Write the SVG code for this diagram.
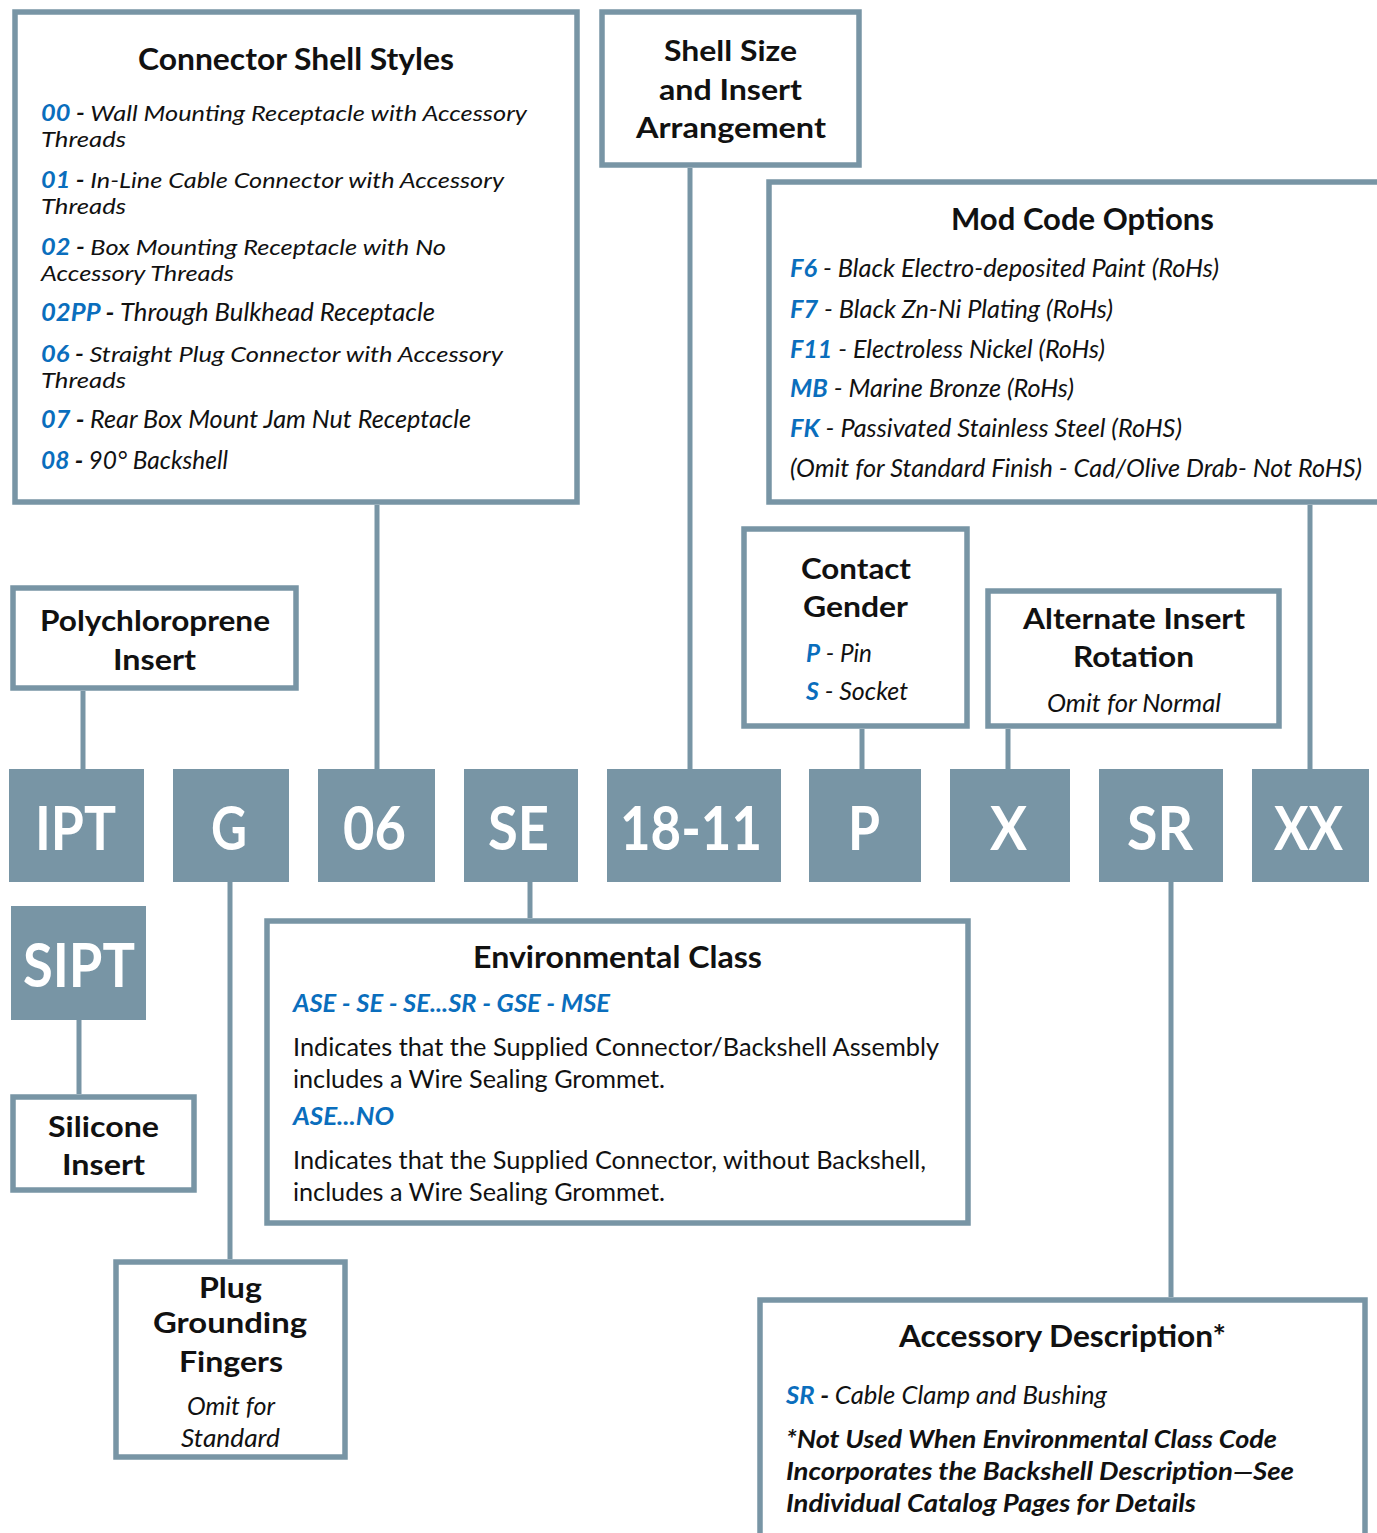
<svg xmlns="http://www.w3.org/2000/svg" width="1377" height="1533" viewBox="0 0 1377 1533">
<style>
.box{fill:#fff;stroke:#7895A5;stroke-width:5.5}
.code{fill:#7895A5}
.conn line{stroke:#7895A5;stroke-width:5}
text{font-family:Lato,"Open Sans","Liberation Sans",sans-serif;fill:#111}
.t{font-weight:bold;font-size:30px}
.h{font-weight:bold;font-size:29px}
.i{font-style:italic;font-size:25px}
.s{font-size:22px}
.r{font-size:25px}
.b{fill:#0A6EBD;font-weight:bold;font-style:italic}
.d{font-weight:bold}
.c{font-weight:bold;font-size:62px;fill:#fff}
.bi{font-weight:bold;font-style:italic;font-size:25px}
</style>
<rect width="1377" height="1533" fill="#fff"/>
<g class="conn">
<line x1="377" y1="505" x2="377" y2="769"/>
<line x1="690" y1="168" x2="690" y2="769"/>
<line x1="1310" y1="505" x2="1310" y2="769"/>
<line x1="83" y1="691" x2="83" y2="769"/>
<line x1="862" y1="729" x2="862" y2="769"/>
<line x1="1008" y1="729" x2="1008" y2="769"/>
<line x1="230" y1="882" x2="230" y2="1259"/>
<line x1="530" y1="882" x2="530" y2="918"/>
<line x1="1171" y1="882" x2="1171" y2="1297"/>
<line x1="79" y1="1020" x2="79" y2="1094"/>
</g>
<g id="shell-styles">
<rect class="box" x="15" y="12" width="562" height="490"/>
<text class="t" x="138" y="70" textLength="316" lengthAdjust="spacingAndGlyphs">Connector Shell Styles</text>
<text class="i s" x="41" y="121" textLength="486" lengthAdjust="spacingAndGlyphs"><tspan class="b">00</tspan><tspan class="d"> - </tspan>Wall Mounting Receptacle with Accessory</text>
<text class="i s" x="41" y="147" textLength="85" lengthAdjust="spacingAndGlyphs">Threads</text>
<text class="i s" x="41" y="188" textLength="463" lengthAdjust="spacingAndGlyphs"><tspan class="b">01</tspan><tspan class="d"> - </tspan>In-Line Cable Connector with Accessory</text>
<text class="i s" x="41" y="214" textLength="85" lengthAdjust="spacingAndGlyphs">Threads</text>
<text class="i s" x="41" y="255" textLength="405" lengthAdjust="spacingAndGlyphs"><tspan class="b">02</tspan><tspan class="d"> - </tspan>Box Mounting Receptacle with No</text>
<text class="i s" x="41" y="281" textLength="193" lengthAdjust="spacingAndGlyphs">Accessory Threads</text>
<text class="i" x="41" y="321" textLength="394" lengthAdjust="spacingAndGlyphs"><tspan class="b">02PP</tspan><tspan class="d"> - </tspan>Through Bulkhead Receptacle</text>
<text class="i s" x="41" y="362" textLength="462" lengthAdjust="spacingAndGlyphs"><tspan class="b">06</tspan><tspan class="d"> - </tspan>Straight Plug Connector with Accessory</text>
<text class="i s" x="41" y="388" textLength="85" lengthAdjust="spacingAndGlyphs">Threads</text>
<text class="i" x="41" y="428" textLength="430" lengthAdjust="spacingAndGlyphs"><tspan class="b">07</tspan><tspan class="d"> - </tspan>Rear Box Mount Jam Nut Receptacle</text>
<text class="i" x="41" y="469" textLength="187" lengthAdjust="spacingAndGlyphs"><tspan class="b">08</tspan><tspan class="d"> - </tspan>90° Backshell</text>
</g>
<g id="shell-size">
<rect class="box" x="602" y="12" width="257" height="153"/>
<text class="h" x="664" y="61" textLength="133" lengthAdjust="spacingAndGlyphs">Shell Size</text>
<text class="h" x="659" y="100" textLength="143" lengthAdjust="spacingAndGlyphs">and Insert</text>
<text class="h" x="636" y="138" textLength="190" lengthAdjust="spacingAndGlyphs">Arrangement</text>
</g>
<g id="mod-code">
<rect class="box" x="769" y="182" width="620" height="320"/>
<text class="t" x="951" y="230" textLength="263" lengthAdjust="spacingAndGlyphs">Mod Code Options</text>
<text class="i" x="790" y="277" textLength="429" lengthAdjust="spacingAndGlyphs"><tspan class="b">F6</tspan> - Black Electro-deposited Paint (RoHs)</text>
<text class="i" x="790" y="318" textLength="323" lengthAdjust="spacingAndGlyphs"><tspan class="b">F7</tspan> - Black Zn-Ni Plating (RoHs)</text>
<text class="i" x="790" y="358" textLength="315" lengthAdjust="spacingAndGlyphs"><tspan class="b">F11</tspan> - Electroless Nickel (RoHs)</text>
<text class="i" x="790" y="397" textLength="284" lengthAdjust="spacingAndGlyphs"><tspan class="b">MB</tspan> - Marine Bronze (RoHs)</text>
<text class="i" x="790" y="437" textLength="392" lengthAdjust="spacingAndGlyphs"><tspan class="b">FK</tspan> - Passivated Stainless Steel (RoHS)</text>
<text class="i" x="790" y="477" textLength="572" lengthAdjust="spacingAndGlyphs">(Omit for Standard Finish - Cad/Olive Drab- Not RoHS)</text>
</g>
<g id="polychloroprene">
<rect class="box" x="13" y="588" width="283" height="100"/>
<text class="h" x="40" y="631" textLength="230" lengthAdjust="spacingAndGlyphs">Polychloroprene</text>
<text class="h" x="113" y="670" textLength="83" lengthAdjust="spacingAndGlyphs">Insert</text>
</g>
<g id="contact-gender">
<rect class="box" x="744" y="529" width="223" height="197"/>
<text class="h" x="801" y="579" textLength="110" lengthAdjust="spacingAndGlyphs">Contact</text>
<text class="h" x="803" y="617" textLength="105" lengthAdjust="spacingAndGlyphs">Gender</text>
<text class="i" x="806" y="662" textLength="66" lengthAdjust="spacingAndGlyphs"><tspan class="b">P</tspan> - Pin</text>
<text class="i" x="806" y="700" textLength="102" lengthAdjust="spacingAndGlyphs"><tspan class="b">S</tspan> - Socket</text>
</g>
<g id="alt-insert">
<rect class="box" x="988" y="591" width="291" height="135"/>
<text class="h" x="1023" y="629" textLength="222" lengthAdjust="spacingAndGlyphs">Alternate Insert</text>
<text class="h" x="1073" y="667" textLength="121" lengthAdjust="spacingAndGlyphs">Rotation</text>
<text class="i" x="1047" y="712" textLength="174" lengthAdjust="spacingAndGlyphs">Omit for Normal</text>
</g>
<g id="code-IPT"><rect class="code" x="9" y="769" width="135" height="113"/><text class="c" x="35" y="850" textLength="81" lengthAdjust="spacingAndGlyphs">IPT</text></g>
<g id="code-G"><rect class="code" x="173" y="769" width="116" height="113"/><text class="c" x="211" y="850" textLength="36" lengthAdjust="spacingAndGlyphs">G</text></g>
<g id="code-06"><rect class="code" x="318" y="769" width="117" height="113"/><text class="c" x="343" y="850" textLength="63" lengthAdjust="spacingAndGlyphs">06</text></g>
<g id="code-SE"><rect class="code" x="464" y="769" width="114" height="113"/><text class="c" x="488" y="850" textLength="61" lengthAdjust="spacingAndGlyphs">SE</text></g>
<g id="code-18-11"><rect class="code" x="607" y="769" width="174" height="113"/><text class="c" x="620" y="850" textLength="142" lengthAdjust="spacingAndGlyphs">18-11</text></g>
<g id="code-P"><rect class="code" x="809" y="769" width="112" height="113"/><text class="c" x="848" y="850" textLength="32" lengthAdjust="spacingAndGlyphs">P</text></g>
<g id="code-X"><rect class="code" x="950" y="769" width="120" height="113"/><text class="c" x="990" y="850" textLength="37" lengthAdjust="spacingAndGlyphs">X</text></g>
<g id="code-SR"><rect class="code" x="1099" y="769" width="124" height="113"/><text class="c" x="1127" y="850" textLength="66" lengthAdjust="spacingAndGlyphs">SR</text></g>
<g id="code-XX"><rect class="code" x="1252" y="769" width="117" height="113"/><text class="c" x="1274" y="850" textLength="69" lengthAdjust="spacingAndGlyphs">XX</text></g>
<g id="code-SIPT"><rect class="code" x="11" y="906" width="135" height="114"/><text class="c" x="23" y="987" textLength="112" lengthAdjust="spacingAndGlyphs">SIPT</text></g>
<g id="silicone">
<rect class="box" x="13" y="1097" width="181" height="93"/>
<text class="h" x="48" y="1137" textLength="111" lengthAdjust="spacingAndGlyphs">Silicone</text>
<text class="h" x="62" y="1175" textLength="83" lengthAdjust="spacingAndGlyphs">Insert</text>
</g>
<g id="environmental">
<rect class="box" x="267" y="921" width="701" height="302"/>
<text class="t" x="473" y="968" textLength="289" lengthAdjust="spacingAndGlyphs">Environmental Class</text>
<text class="i b" x="293" y="1012" textLength="317" lengthAdjust="spacingAndGlyphs">ASE - SE - SE...SR - GSE - MSE</text>
<text class="r" x="293" y="1056" textLength="646" lengthAdjust="spacingAndGlyphs">Indicates that the Supplied Connector/Backshell Assembly</text>
<text class="r" x="293" y="1088" textLength="372" lengthAdjust="spacingAndGlyphs">includes a Wire Sealing Grommet.</text>
<text class="i b" x="293" y="1125" textLength="101" lengthAdjust="spacingAndGlyphs">ASE...NO</text>
<text class="r" x="293" y="1169" textLength="633" lengthAdjust="spacingAndGlyphs">Indicates that the Supplied Connector, without Backshell,</text>
<text class="r" x="293" y="1201" textLength="372" lengthAdjust="spacingAndGlyphs">includes a Wire Sealing Grommet.</text>
</g>
<g id="plug-grounding">
<rect class="box" x="116" y="1262" width="229" height="195"/>
<text class="h" x="199" y="1298" textLength="63" lengthAdjust="spacingAndGlyphs">Plug</text>
<text class="h" x="153" y="1333" textLength="154" lengthAdjust="spacingAndGlyphs">Grounding</text>
<text class="h" x="179" y="1372" textLength="104" lengthAdjust="spacingAndGlyphs">Fingers</text>
<text class="i" x="187" y="1415" textLength="88" lengthAdjust="spacingAndGlyphs">Omit for</text>
<text class="i" x="181" y="1447" textLength="99" lengthAdjust="spacingAndGlyphs">Standard</text>
</g>
<g id="accessory">
<rect class="box" x="760" y="1300" width="605" height="240"/>
<text class="t" x="899" y="1347" textLength="327" lengthAdjust="spacingAndGlyphs">Accessory Description*</text>
<text class="i" x="786" y="1404" textLength="321" lengthAdjust="spacingAndGlyphs"><tspan class="b">SR</tspan><tspan class="d"> - </tspan>Cable Clamp and Bushing</text>
<text class="bi" x="786" y="1448" textLength="491" lengthAdjust="spacingAndGlyphs">*Not Used When Environmental Class Code</text>
<text class="bi" x="786" y="1480" textLength="508" lengthAdjust="spacingAndGlyphs">Incorporates the Backshell Description—See</text>
<text class="bi" x="786" y="1512" textLength="410" lengthAdjust="spacingAndGlyphs">Individual Catalog Pages for Details</text>
</g>
</svg>
